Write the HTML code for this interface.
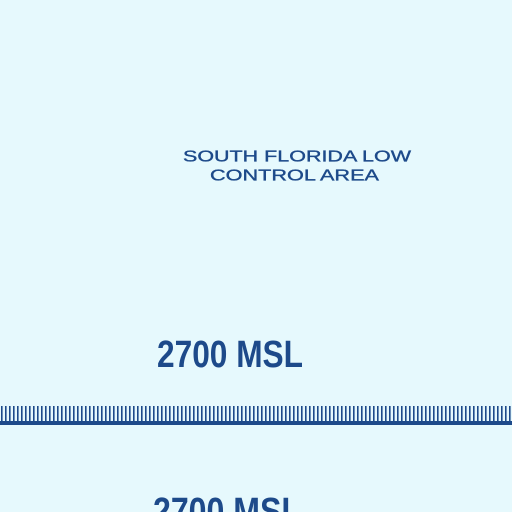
<!DOCTYPE html>
<html><head><meta charset="utf-8"><style>
html,body{margin:0;padding:0;background:#e6f9fd;}
svg{display:block;}
</style></head><body>
<svg width="512" height="512" viewBox="0 0 512 512" xmlns="http://www.w3.org/2000/svg">
<rect x="0" y="0" width="512" height="512" fill="#e6f9fd"/>
<g fill="#1d4a8a" stroke="#1d4a8a" stroke-width="0.35" font-family="'Liberation Sans', sans-serif" font-size="15.5">
<text x="183" y="161.5" textLength="228" lengthAdjust="spacingAndGlyphs">SOUTH FLORIDA LOW</text>
<text x="210" y="180.5" textLength="169" lengthAdjust="spacingAndGlyphs">CONTROL AREA</text>
</g>
<text x="157" y="367" fill="#1d4a8a" font-family="'Liberation Sans', sans-serif" font-weight="bold" font-size="38" textLength="146" lengthAdjust="spacingAndGlyphs">2700 MSL</text>
<text x="153" y="524" fill="#1d4a8a" font-family="'Liberation Sans', sans-serif" font-weight="bold" font-size="38" textLength="148" lengthAdjust="spacingAndGlyphs">2700 MSL</text>
<g id="boundary">
<rect x="0" y="421" width="512" height="4" fill="#1d4a8a"/>
</g>
</svg>
<script>
var g=document.getElementById('boundary');
for(var x=1;x<512;x+=4){
  var r=document.createElementNS('http://www.w3.org/2000/svg','rect');
  r.setAttribute('x',x);r.setAttribute('y',406);r.setAttribute('width',1.6);r.setAttribute('height',16);
  r.setAttribute('fill','#1d4a8a');
  
  
  g.appendChild(r);
}
</script>
</body></html>
